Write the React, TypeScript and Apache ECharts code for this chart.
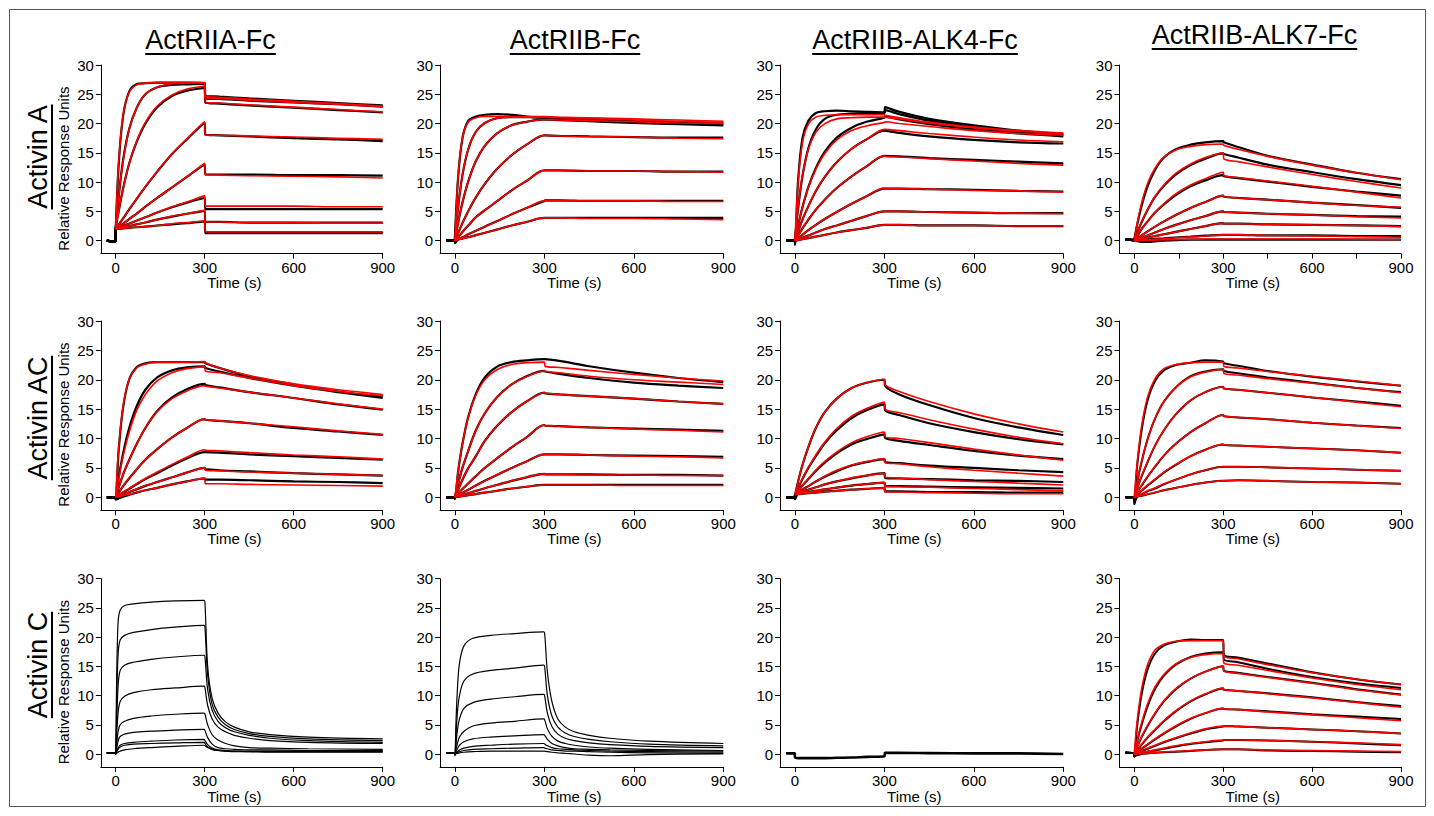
import React, { useEffect, useRef } from "react";
import * as echarts from "echarts";

const FONT = "'Liberation Sans', Arial, Helvetica, sans-serif";

const columnTitles = ["ActRIIA-Fc", "ActRIIB-Fc", "ActRIIB-ALK4-Fc", "ActRIIB-ALK7-Fc"];
const rowTitles = ["Activin A", "Activin AC", "Activin C"];
const yAxisTitle = "Relative Response Units";
const xAxisTitle = "Time (s)";
const yTickValues = [0, 5, 10, 15, 20, 25, 30];
const xLabelValues = [0, 300, 600, 900];
const xMinorTickValues = [150, 450, 750];

// time grids (s)
const tFit = [0, 10, 25, 45, 70, 100, 140, 190, 240, 300, 302, 350, 450, 600, 750, 900];
const tData = [-30, -1, 0, 10, 25, 45, 70, 100, 140, 190, 240, 300, 302, 350, 450, 600, 750, 900];
const tFast = [-30, -1, 0, 3, 8, 15, 30, 60, 120, 200, 298, 301, 310, 325, 345, 370, 400, 450, 520, 650, 900];

// ---- Activin A / ActRIIA-Fc ----
const fitA_IIA = [
  [2, 13.3, 21.4, 25.3, 26.6, 26.9, 27, 27, 27, 27.0, 24.7, 24.5, 24.2, 23.8, 23.4, 23.0],
  [2, 7.5, 13.6, 18.9, 22.6, 25.0, 26.2, 26.8, 26.9, 26.9, 24.4, 24.3, 24.0, 23.6, 23.3, 22.9],
  [2, 5.0, 8.9, 13.1, 16.9, 20.2, 23.0, 24.9, 25.9, 26.4, 23.6, 23.5, 23.2, 22.8, 22.4, 22.0],
  [2, 2.7, 3.8, 5.3, 7.1, 9.2, 11.8, 14.8, 17.4, 20.3, 18.1, 18.0, 17.9, 17.7, 17.5, 17.3],
  [2, 2.4, 2.9, 3.7, 4.6, 5.8, 7.3, 9.1, 10.9, 13.2, 11.3, 11.2, 11.1, 11.0, 10.9, 10.7],
  [2, 2.2, 2.5, 2.9, 3.4, 4.0, 4.8, 5.8, 6.6, 7.7, 5.9, 5.9, 5.9, 5.9, 5.8, 5.8],
  [2, 2.1, 2.3, 2.5, 2.8, 3.1, 3.6, 4.2, 4.6, 5.2, 3.2, 3.2, 3.1, 3.1, 3.0, 3.0],
  [2, 2.0, 2.1, 2.2, 2.3, 2.4, 2.6, 2.9, 3.1, 3.4, 1.5, 1.5, 1.5, 1.5, 1.5, 1.5],
];
const dataA_IIA = [
  [0, -0.2, 2, 13, 21.3, 25.4, 26.7, 26.9, 27, 27, 27, 26.9, 24.8, 24.6, 24.3, 23.9, 23.5, 23.1],
  [0, -0.2, 2, 7.5, 13.8, 19.0, 22.6, 25.0, 26.2, 26.6, 26.7, 26.8, 24.3, 24.2, 23.9, 23.6, 23.3, 22.9],
  [0, -0.2, 2, 5.0, 8.9, 13.1, 16.8, 20.0, 22.8, 24.7, 25.6, 26.1, 23.6, 23.4, 23.1, 22.7, 22.3, 21.9],
  [0, -0.2, 2, 2.7, 3.8, 5.3, 7.1, 9.2, 11.8, 14.8, 17.3, 20.1, 18.1, 18.0, 17.8, 17.5, 17.3, 17.0],
  [0, -0.2, 2, 2.4, 2.9, 3.7, 4.6, 5.8, 7.3, 9.1, 10.9, 13.0, 11.3, 11.3, 11.3, 11.2, 11.2, 11.1],
  [0, -0.2, 2, 2.2, 2.5, 2.9, 3.4, 4.0, 4.8, 5.7, 6.5, 7.3, 5.4, 5.4, 5.4, 5.4, 5.4, 5.4],
  [0, -0.2, 2, 2.1, 2.3, 2.5, 2.8, 3.1, 3.6, 4.1, 4.6, 5.1, 3.2, 3.2, 3.1, 3.1, 3.1, 3.1],
  [0, -0.2, 2, 2.0, 2.1, 2.2, 2.3, 2.4, 2.6, 2.8, 3.0, 3.3, 1.3, 1.3, 1.3, 1.3, 1.3, 1.3],
];

// ---- Activin A / ActRIIB-Fc ----
const fitA_IIB = [
  [0, 10.7, 17.5, 20.3, 21.0, 21.2, 21.2, 21.2, 21.2, 21.2, 21.2, 21.1, 21.0, 20.8, 20.6, 20.4],
  [0, 5.5, 11.2, 15.7, 18.6, 20.1, 20.9, 21.1, 21.1, 21.1, 21.1, 21.0, 20.9, 20.6, 20.4, 20.2],
  [0, 2.9, 6.5, 10.2, 13.6, 16.2, 18.3, 19.7, 20.3, 20.7, 20.7, 20.6, 20.5, 20.3, 20.1, 20.0],
  [0, 1.25, 3.0, 5.1, 7.4, 9.7, 12.2, 14.6, 16.4, 18.0, 18.0, 17.9, 17.8, 17.7, 17.5, 17.4],
  [0, 0.6, 1.5, 2.6, 4.0, 5.2, 6.7, 8.6, 10.2, 12.0, 12.0, 12.0, 11.9, 11.9, 11.8, 11.7],
  [0, 0.25, 0.6, 1.1, 1.7, 2.4, 3.3, 4.5, 5.6, 6.8, 6.8, 6.8, 6.8, 6.8, 6.7, 6.7],
  [0, 0.15, 0.35, 0.6, 0.95, 1.35, 1.9, 2.6, 3.2, 3.9, 3.9, 3.9, 3.8, 3.8, 3.7, 3.6],
];
const dataA_IIB = [
  [0, 0, 0, 10.5, 17.5, 20.5, 21.2, 21.5, 21.6, 21.5, 21.2, 21.0, 21.0, 20.8, 20.5, 20.2, 20.0, 19.8],
  [0, 0, 0, 5.5, 11.2, 15.7, 18.6, 20.1, 20.9, 21.1, 21.1, 21.1, 21.1, 20.9, 20.7, 20.4, 20.2, 20.0],
  [0, 0, 0, 2.9, 6.5, 10.2, 13.6, 16.2, 18.3, 19.7, 20.3, 20.7, 20.7, 20.6, 20.4, 20.1, 19.9, 19.7],
  [0, 0, 0, 1.25, 3.0, 5.1, 7.4, 9.7, 12.2, 14.6, 16.4, 18.0, 18.0, 17.9, 17.8, 17.7, 17.6, 17.6],
  [0, 0, 0, 0.6, 1.5, 2.6, 4.0, 5.2, 6.7, 8.6, 10.2, 12.0, 12.0, 12.0, 11.9, 11.9, 11.8, 11.8],
  [0, 0, 0, 0.25, 0.6, 1.1, 1.7, 2.4, 3.3, 4.5, 5.6, 6.8, 6.9, 6.9, 6.8, 6.8, 6.8, 6.8],
  [0, 0, -0.4, 0.15, 0.35, 0.6, 0.95, 1.35, 1.9, 2.6, 3.2, 3.9, 3.9, 3.9, 3.9, 3.9, 3.9, 3.9],
];

// ---- Activin A / ActRIIB-ALK4-Fc ----
const fitA_ALK4 = [
  [0, 9.6, 16.7, 19.9, 21.1, 21.4, 21.5, 21.5, 21.5, 21.5, 21.4, 21.0, 20.2, 19.4, 18.8, 18.4],
  [0, 5.5, 11.1, 15.6, 18.5, 20.0, 20.8, 21.0, 21.1, 21.1, 21.1, 20.8, 20.1, 19.3, 18.7, 18.3],
  [0, 2.5, 5.7, 9.1, 12.2, 14.9, 17.2, 18.8, 19.6, 20.2, 20.3, 20.0, 19.5, 18.8, 18.3, 18.0],
  [0, 1.5, 3.6, 5.9, 8.5, 10.9, 13.4, 15.7, 17.3, 19.0, 19.0, 18.8, 18.3, 17.7, 17.2, 16.9],
  [0, 0.85, 2.1, 3.6, 5.3, 7.0, 9.0, 11.0, 12.7, 14.5, 14.4, 14.3, 14.0, 13.6, 13.2, 12.9],
  [0, 0.4, 1.0, 1.8, 2.7, 3.7, 4.9, 6.3, 7.6, 9.0, 8.9, 8.9, 8.8, 8.6, 8.5, 8.3],
  [0, 0.2, 0.5, 0.9, 1.4, 2.0, 2.6, 3.4, 4.2, 5.0, 5.0, 5.0, 4.9, 4.8, 4.7, 4.6],
  [0, 0.1, 0.25, 0.45, 0.7, 1.0, 1.4, 1.8, 2.2, 2.7, 2.7, 2.7, 2.6, 2.6, 2.5, 2.5],
];
const dataA_ALK4 = [
  [0, 0, -0.7, 10, 17.5, 20.5, 21.8, 22.1, 22.2, 22.1, 22.0, 21.9, 22.8, 22.0, 20.8, 19.7, 18.8, 18.2],
  [0, 0, 0, 5.3, 11.0, 15.8, 19.0, 20.8, 21.5, 21.7, 21.8, 21.8, 22.3, 21.6, 20.5, 19.4, 18.6, 18.0],
  [0, 0, 0, 2.5, 5.7, 9.2, 12.4, 15.2, 17.6, 19.3, 20.3, 21.0, 21.2, 20.7, 19.9, 19.0, 18.3, 17.8],
  [0, 0, 0, 1.5, 3.6, 5.9, 8.5, 10.9, 13.4, 15.7, 17.3, 18.8, 18.8, 18.4, 17.8, 17.2, 16.8, 16.6],
  [0, 0, 0, 0.85, 2.1, 3.6, 5.3, 7.0, 9.0, 11.0, 12.7, 14.5, 14.5, 14.4, 14.1, 13.8, 13.5, 13.2],
  [0, 0, 0, 0.4, 1.0, 1.8, 2.7, 3.7, 4.9, 6.3, 7.6, 8.9, 8.9, 8.9, 8.8, 8.7, 8.5, 8.4],
  [0, 0, 0, 0.2, 0.5, 0.9, 1.4, 2.0, 2.6, 3.4, 4.2, 5.0, 5.0, 5.0, 4.9, 4.8, 4.7, 4.7],
  [0, 0, 0, 0.1, 0.25, 0.45, 0.7, 1.0, 1.4, 1.8, 2.2, 2.7, 2.7, 2.7, 2.6, 2.6, 2.5, 2.5],
];

// ---- Activin A / ActRIIB-ALK7-Fc ----
const fitA_ALK7 = [
  [0, 3.0, 6.5, 9.8, 12.4, 14.3, 15.5, 16.1, 16.4, 16.5, 16.3, 15.6, 14.4, 12.9, 11.6, 10.4],
  [0, 1.4, 3.2, 5.3, 7.5, 9.5, 11.5, 13.1, 14.2, 15.0, 14.0, 13.5, 12.6, 11.3, 10.1, 9.0],
  [0, 0.8, 2.0, 3.3, 4.8, 6.3, 8.0, 9.5, 10.6, 11.7, 11.1, 10.8, 10.2, 9.3, 8.3, 7.3],
  [0, 0.4, 0.9, 1.6, 2.4, 3.3, 4.4, 5.6, 6.6, 7.7, 7.5, 7.3, 7.0, 6.5, 6.0, 5.7],
  [0, 0.2, 0.5, 0.9, 1.4, 2.0, 2.7, 3.5, 4.2, 5.0, 4.9, 4.8, 4.6, 4.4, 4.1, 3.9],
  [0, 0.1, 0.3, 0.5, 0.8, 1.1, 1.5, 2.0, 2.5, 3.0, 2.9, 2.9, 2.8, 2.7, 2.6, 2.4],
  [0, 0.05, 0.1, 0.15, 0.25, 0.35, 0.5, 0.65, 0.8, 1.0, 1.0, 1.0, 0.9, 0.8, 0.7, 0.6],
  [0, 0.02, 0.05, 0.08, 0.1, 0.15, 0.2, 0.25, 0.28, 0.3, 0.3, 0.3, 0.3, 0.3, 0.25, 0.2],
];
const dataA_ALK7 = [
  [0.2, 0.1, 0, 2.8, 6.0, 9.3, 12.1, 14.2, 15.6, 16.4, 16.8, 17.0, 16.8, 16.0, 14.5, 13.0, 11.6, 10.5],
  [0.2, 0.1, 0, 1.4, 3.2, 5.3, 7.5, 9.4, 11.3, 12.9, 14.0, 14.9, 14.8, 14.2, 13.0, 11.7, 10.5, 9.5],
  [0.2, 0.1, 0, 0.8, 2.0, 3.3, 4.8, 6.2, 7.8, 9.3, 10.3, 11.2, 11.0, 10.7, 10.1, 9.2, 8.4, 7.7],
  [0.2, 0.1, 0, 0.4, 0.9, 1.6, 2.4, 3.3, 4.4, 5.6, 6.6, 7.7, 7.5, 7.3, 7.0, 6.5, 6.1, 5.6],
  [0.2, 0.1, 0, 0.2, 0.5, 0.9, 1.4, 2.0, 2.7, 3.5, 4.2, 5.0, 4.9, 4.8, 4.6, 4.4, 4.2, 4.1],
  [0.2, 0.1, 0, 0.1, 0.3, 0.5, 0.8, 1.1, 1.5, 2.0, 2.5, 3.0, 2.9, 2.9, 2.8, 2.7, 2.6, 2.5],
  [0.2, 0.1, 0, 0.05, 0.1, 0.2, 0.3, 0.4, 0.55, 0.7, 0.85, 1.0, 1.0, 1.0, 0.9, 0.9, 0.8, 0.8],
  [0.2, 0.1, 0, -0.1, -0.2, -0.2, -0.1, 0, 0.1, 0.2, 0.2, 0.2, 0.2, 0.2, 0.2, 0.2, 0.2, 0.2],
];

// ---- Activin AC / ActRIIA-Fc ----
const fitAC_IIA = [
  [0, 8.3, 15.5, 20.0, 22.0, 22.7, 23.0, 23.0, 23.0, 23.1, 22.9, 22.0, 20.7, 19.3, 18.3, 17.5],
  [0, 3.1, 7.0, 11.0, 14.7, 17.5, 19.8, 21.2, 21.9, 22.2, 21.5, 21.2, 20.3, 19.0, 18.0, 17.3],
  [0, 1.65, 3.9, 6.3, 9.0, 11.8, 14.6, 16.8, 18.1, 19.0, 18.9, 18.6, 17.9, 16.9, 15.9, 15.0],
  [0, 0.75, 1.9, 3.2, 4.7, 6.4, 8.2, 10.2, 11.8, 13.3, 13.2, 13.0, 12.6, 12.0, 11.3, 10.7],
  [0, 0.35, 0.9, 1.5, 2.3, 3.2, 4.3, 5.6, 6.8, 8.1, 8.0, 7.9, 7.6, 7.2, 6.9, 6.5],
  [0, 0.2, 0.5, 0.9, 1.4, 2.0, 2.6, 3.4, 4.2, 5.0, 4.6, 4.5, 4.3, 4.1, 3.9, 3.7],
  [0, 0.1, 0.3, 0.5, 0.8, 1.2, 1.6, 2.2, 2.7, 3.3, 2.3, 2.3, 2.2, 2.1, 2.0, 1.9],
];
const dataAC_IIA = [
  [0, 0, -0.2, 8.0, 15.3, 20.0, 22.1, 22.8, 23.0, 23.0, 23.0, 23.0, 22.8, 22.0, 20.6, 19.2, 18.0, 17.1],
  [0, 0, -0.2, 3.3, 7.5, 11.7, 15.4, 18.3, 20.4, 21.6, 22.1, 22.3, 22.0, 21.4, 20.3, 19.0, 17.9, 16.9],
  [0, 0, -0.2, 1.65, 3.9, 6.3, 9.0, 11.8, 14.7, 17.0, 18.4, 19.3, 19.1, 18.7, 17.9, 16.9, 15.8, 14.9],
  [0, 0, -0.2, 0.75, 1.9, 3.2, 4.7, 6.4, 8.2, 10.2, 11.8, 13.3, 13.2, 13.0, 12.6, 11.8, 11.2, 10.6],
  [0, 0, -0.2, 0.3, 0.8, 1.4, 2.2, 3.1, 4.1, 5.4, 6.6, 7.7, 7.7, 7.6, 7.3, 7.0, 6.7, 6.4],
  [0, 0, -0.2, 0.15, 0.45, 0.85, 1.35, 1.95, 2.6, 3.4, 4.2, 5.0, 4.8, 4.6, 4.4, 4.1, 3.9, 3.7],
  [0, 0, -0.4, -0.2, 0.1, 0.4, 0.8, 1.2, 1.6, 2.2, 2.7, 3.2, 3.0, 3.0, 2.9, 2.7, 2.6, 2.4],
];

// ---- Activin AC / ActRIIB-Fc ----
const fitAC_IIB = [
  [0, 4.2, 9.1, 13.7, 17.4, 20.0, 21.7, 22.6, 22.9, 23.0, 22.3, 22.1, 21.6, 20.9, 20.3, 19.8],
  [0, 2.2, 5.0, 8.0, 11.4, 14.3, 17.0, 19.2, 20.5, 21.5, 21.4, 21.2, 20.6, 20.0, 19.6, 19.2],
  [0, 1.2, 3.0, 5.0, 7.0, 9.6, 12.1, 14.5, 16.3, 17.8, 17.7, 17.5, 17.2, 16.8, 16.3, 15.9],
  [0, 0.6, 1.4, 2.4, 3.6, 5.0, 6.6, 8.5, 10.2, 12.3, 12.2, 12.1, 11.9, 11.6, 11.4, 11.1],
  [0, 0.3, 0.75, 1.3, 2.0, 2.8, 3.8, 5.0, 6.1, 7.3, 7.3, 7.3, 7.2, 7.0, 6.9, 6.7],
  [0, 0.15, 0.4, 0.7, 1.1, 1.55, 2.1, 2.8, 3.4, 4.0, 3.9, 3.9, 3.8, 3.8, 3.7, 3.7],
  [0, 0.08, 0.2, 0.35, 0.55, 0.8, 1.1, 1.5, 1.8, 2.1, 2.1, 2.1, 2.1, 2.0, 2.0, 2.0],
];
const dataAC_IIB = [
  [0, 0, -0.3, 4.2, 9.1, 13.8, 17.6, 20.4, 22.2, 23.0, 23.3, 23.5, 23.5, 23.2, 22.3, 21.2, 20.3, 19.6],
  [0, 0, 0, 2.2, 5.0, 8.0, 11.4, 14.3, 17.0, 19.2, 20.6, 21.5, 21.4, 21.0, 20.3, 19.5, 19.0, 18.6],
  [0, 0, 0, 1.2, 3.0, 5.0, 7.0, 9.6, 12.1, 14.5, 16.3, 17.8, 17.7, 17.5, 17.2, 16.8, 16.3, 15.9],
  [0, 0, 0, 0.6, 1.4, 2.4, 3.6, 5.0, 6.6, 8.5, 10.2, 12.3, 12.2, 12.1, 11.9, 11.7, 11.5, 11.3],
  [0, 0, 0, 0.3, 0.75, 1.3, 2.0, 2.8, 3.8, 5.0, 6.1, 7.3, 7.3, 7.3, 7.2, 7.1, 7.0, 6.9],
  [0, 0, 0, 0.15, 0.4, 0.7, 1.1, 1.55, 2.1, 2.8, 3.4, 4.0, 3.9, 3.9, 3.9, 3.8, 3.8, 3.7],
  [0, 0, 0, 0.08, 0.2, 0.35, 0.55, 0.8, 1.1, 1.5, 1.8, 2.1, 2.1, 2.1, 2.1, 2.1, 2.1, 2.1],
];

// ---- Activin AC / ActRIIB-ALK4-Fc ----
const fitAC_ALK4 = [
  [0.5, 2.6, 5.5, 8.6, 11.8, 14.5, 16.8, 18.6, 19.5, 20.1, 19.2, 18.0, 16.3, 14.2, 12.5, 11.1],
  [0.5, 1.5, 3.2, 5.1, 7.2, 9.4, 11.7, 13.8, 15.1, 16.2, 15.0, 14.4, 13.2, 11.6, 10.2, 9.1],
  [0.5, 1.0, 2.0, 3.2, 4.6, 6.1, 7.7, 9.3, 10.3, 11.1, 10.3, 10.0, 9.3, 8.2, 7.2, 6.3],
  [0.5, 0.8, 1.3, 1.9, 2.7, 3.6, 4.6, 5.5, 6.1, 6.6, 5.9, 5.7, 5.2, 4.6, 4.1, 3.6],
  [0.5, 0.7, 1.0, 1.3, 1.7, 2.2, 2.7, 3.3, 3.7, 4.1, 3.4, 3.3, 3.0, 2.7, 2.4, 2.1],
  [0.5, 0.6, 0.75, 0.9, 1.1, 1.35, 1.65, 2.0, 2.25, 2.5, 1.9, 1.8, 1.7, 1.5, 1.3, 1.1],
  [0.5, 0.55, 0.6, 0.7, 0.8, 0.95, 1.1, 1.3, 1.45, 1.6, 0.9, 0.9, 0.8, 0.7, 0.6, 0.6],
];
const dataAC_ALK4 = [
  [0, 0, 0.3, 2.6, 5.5, 8.6, 11.8, 14.5, 16.8, 18.6, 19.5, 20.0, 19.0, 17.5, 15.7, 13.5, 11.9, 10.6],
  [0, 0, 0.3, 1.5, 3.1, 5.0, 7.0, 9.2, 11.4, 13.5, 14.8, 15.8, 14.8, 14.0, 12.6, 11.1, 9.9, 9.0],
  [0, 0, 0.3, 1.0, 2.0, 3.1, 4.5, 5.9, 7.5, 9.0, 9.9, 10.7, 10.1, 9.6, 8.9, 7.9, 7.1, 6.5],
  [0, 0, 0.3, 0.8, 1.3, 1.9, 2.7, 3.5, 4.4, 5.4, 6.0, 6.5, 6.0, 5.8, 5.4, 5.0, 4.6, 4.3],
  [0, 0, 0.3, 0.7, 1.0, 1.3, 1.7, 2.2, 2.7, 3.2, 3.7, 4.1, 3.3, 3.2, 3.1, 2.9, 2.8, 2.6],
  [0, 0, 0.3, 0.6, 0.75, 0.9, 1.1, 1.35, 1.65, 2.0, 2.25, 2.5, 1.9, 1.9, 1.8, 1.7, 1.6, 1.5],
  [0, 0, -0.3, 0.55, 0.6, 0.7, 0.8, 0.95, 1.1, 1.3, 1.45, 1.6, 1.0, 1.0, 0.9, 0.9, 0.8, 0.8],
];

// ---- Activin AC / ActRIIB-ALK7-Fc ----
const fitAC_ALK7 = [
  [0, 6.0, 12.2, 17.1, 20.2, 21.9, 22.6, 22.9, 23.0, 23.0, 22.3, 22.0, 21.4, 20.6, 19.8, 19.0],
  [0, 2.7, 6.2, 9.9, 13.4, 16.3, 18.7, 20.5, 21.3, 21.8, 21.1, 20.8, 20.2, 19.4, 18.6, 17.8],
  [0, 1.6, 3.7, 6.1, 8.8, 11.4, 14.1, 16.5, 17.9, 18.8, 18.5, 18.3, 17.8, 17.0, 16.2, 15.4],
  [0, 0.9, 2.1, 3.6, 5.3, 7.1, 9.1, 11.1, 12.6, 14.0, 13.8, 13.6, 13.3, 12.7, 12.2, 11.7],
  [0, 0.5, 1.2, 2.1, 3.1, 4.3, 5.6, 7.0, 8.1, 9.0, 8.9, 8.8, 8.6, 8.3, 8.0, 7.6],
  [0, 0.25, 0.6, 1.1, 1.6, 2.3, 3.0, 3.9, 4.6, 5.2, 5.2, 5.2, 5.1, 4.9, 4.7, 4.5],
  [0, 0.12, 0.3, 0.55, 0.85, 1.2, 1.6, 2.1, 2.5, 2.8, 2.8, 2.9, 2.8, 2.6, 2.5, 2.3],
];
const dataAC_ALK7 = [
  [0, 0, -0.6, 5.5, 11.5, 16.5, 19.8, 21.6, 22.5, 22.9, 23.3, 23.1, 22.8, 22.4, 21.5, 20.5, 19.7, 19.0],
  [0, 0, -0.6, 2.6, 6.1, 9.9, 13.4, 16.3, 18.7, 20.6, 21.4, 21.8, 21.5, 21.1, 20.4, 19.5, 18.6, 17.9],
  [0, 0, -0.6, 1.5, 3.6, 6.0, 8.8, 11.4, 14.1, 16.5, 17.9, 18.8, 18.5, 18.3, 17.8, 17.0, 16.3, 15.6],
  [0, 0, -0.6, 0.8, 2.0, 3.5, 5.2, 7.1, 9.1, 11.1, 12.6, 14.0, 13.8, 13.6, 13.3, 12.7, 12.2, 11.8],
  [0, 0, -0.6, 0.4, 1.1, 2.0, 3.0, 4.2, 5.5, 7.0, 8.1, 9.0, 8.9, 8.8, 8.6, 8.3, 8.0, 7.6],
  [0, 0, -0.6, 0.2, 0.5, 1.0, 1.5, 2.2, 3.0, 3.9, 4.6, 5.2, 5.2, 5.2, 5.1, 4.9, 4.7, 4.5],
  [0, 0, -1.2, 0.1, 0.25, 0.5, 0.8, 1.2, 1.6, 2.1, 2.5, 2.8, 2.8, 2.9, 2.8, 2.6, 2.5, 2.3],
];

// ---- Activin C / ActRIIA-Fc (data only) ----
const dataC_IIA = [
  [0.2, 0.2, 0, 12, 22.5, 24.6, 25.4, 25.7, 26.0, 26.2, 26.3, 25.8, 15.0, 9.5, 7.0, 5.5, 4.6, 3.8, 3.3, 2.9, 2.6],
  [0.2, 0.2, 0, 8, 17, 19.5, 20.3, 20.8, 21.3, 21.7, 22.0, 21.6, 13.5, 8.5, 6.3, 5.0, 4.2, 3.5, 3.0, 2.6, 2.3],
  [0.2, 0.2, 0, 5, 11.5, 14.3, 15.2, 15.7, 16.2, 16.6, 16.9, 16.5, 11.0, 7.5, 5.6, 4.5, 3.8, 3.2, 2.7, 2.3, 2.0],
  [0.2, 0.2, 0, 3, 7, 9.0, 9.9, 10.5, 11.0, 11.3, 11.6, 11.3, 8.3, 6.0, 4.6, 3.8, 3.2, 2.7, 2.3, 2.0, 1.8],
  [0.2, 0.2, 0, 1.5, 3.8, 5.0, 5.6, 6.1, 6.5, 6.8, 7.0, 6.8, 5.0, 3.3, 2.4, 1.8, 1.4, 1.1, 1.0, 0.9, 0.8],
  [0.2, 0.2, 0, 0.8, 2.2, 3.0, 3.4, 3.7, 3.9, 4.1, 4.2, 4.0, 2.8, 1.7, 1.1, 0.9, 0.8, 0.7, 0.7, 0.6, 0.6],
  [0.2, 0.2, 0, 0.4, 1.0, 1.5, 1.8, 2.0, 2.2, 2.4, 2.5, 2.3, 1.6, 1.0, 0.7, 0.6, 0.5, 0.5, 0.5, 0.5, 0.5],
  [0.2, 0.2, 0, 0.3, 0.8, 1.2, 1.5, 1.7, 1.8, 1.9, 2.0, 1.8, 1.2, 0.8, 0.6, 0.5, 0.5, 0.4, 0.4, 0.4, 0.4],
  [0.2, 0.2, 0, 0.1, 0.3, 0.5, 0.7, 0.9, 1.1, 1.3, 1.5, 1.4, 1.1, 0.8, 0.6, 0.5, 0.4, 0.4, 0.3, 0.3, 0.3],
];

// ---- Activin C / ActRIIB-Fc (data only) ----
const dataC_IIB = [
  [0.2, 0.2, 0, 5, 11, 15.5, 18.5, 19.8, 20.3, 20.6, 20.9, 20.5, 14, 9, 6, 4.6, 3.8, 3.2, 2.7, 2.2, 1.8],
  [0.2, 0.2, 0, 3, 7, 10, 12.5, 13.7, 14.3, 14.7, 15.2, 14.8, 10, 6.5, 4.6, 3.6, 3.0, 2.5, 2.1, 1.7, 1.4],
  [0.2, 0.2, 0, 1.5, 4, 6, 7.8, 8.8, 9.4, 9.8, 10.2, 9.9, 7.0, 4.7, 3.4, 2.7, 2.3, 1.9, 1.6, 1.3, 1.1],
  [0.2, 0.2, 0, 0.7, 1.8, 2.9, 3.9, 4.8, 5.3, 5.6, 6.0, 5.8, 4.3, 3.0, 2.2, 1.8, 1.5, 1.2, 1.0, 0.8, 0.6],
  [0.2, 0.2, 0, 0.3, 0.9, 1.5, 2.1, 2.6, 2.9, 3.1, 3.3, 3.2, 2.5, 1.8, 1.4, 1.1, 0.9, 0.8, 0.7, 0.6, 0.5],
  [0.2, 0.2, 0, 0.15, 0.4, 0.7, 1.0, 1.3, 1.5, 1.7, 1.8, 1.7, 1.4, 1.1, 0.9, 0.8, 0.7, 0.6, 0.5, 0.4, 0.3],
  [0.2, 0.2, 0, 0.1, 0.25, 0.4, 0.6, 0.8, 0.9, 1.0, 1.1, 1.0, 0.9, 0.7, 0.6, 0.5, 0.5, 0.4, 0.3, 0.2, 0.1],
  [0.2, 0.2, -0.3, 0.05, 0.1, 0.2, 0.3, 0.4, 0.5, 0.5, 0.5, 0.5, 0.4, 0.3, 0.2, 0.1, 0, -0.2, -0.3, -0.1, 0.0],
];

// ---- Activin C / ActRIIB-ALK4-Fc (data only) ----
const dataC_ALK4 = [
  [0.1, 0.1, -0.6, -0.7, -0.7, -0.7, -0.7, -0.7, -0.65, -0.6, -0.5, -0.4, 0.2, 0.2, 0.15, 0.1, 0.1, 0.0],
];

// ---- Activin C / ActRIIB-ALK7-Fc ----
const fitC_ALK7 = [
  [0, 5.8, 11.2, 15.3, 17.8, 18.8, 19.3, 19.4, 19.4, 19.4, 16.8, 16.3, 15.3, 13.9, 12.8, 11.9],
  [0, 2.4, 5.4, 8.6, 11.5, 13.6, 15.4, 16.5, 17.0, 17.2, 15.6, 15.2, 14.3, 13.0, 11.9, 11.0],
  [0, 1.3, 3.0, 4.9, 7.0, 9.1, 11.2, 12.9, 14.1, 15.0, 14.2, 13.8, 13.1, 12.1, 11.0, 10.1],
  [0, 0.7, 1.7, 2.9, 4.2, 5.7, 7.4, 9.1, 10.3, 11.3, 11.0, 10.8, 10.3, 9.6, 8.8, 8.0],
  [0, 0.4, 1.0, 1.7, 2.6, 3.6, 4.8, 6.1, 7.0, 7.8, 7.7, 7.6, 7.2, 6.7, 6.2, 5.7],
  [0, 0.2, 0.55, 1.0, 1.5, 2.1, 2.8, 3.6, 4.3, 4.8, 4.8, 4.7, 4.5, 4.2, 3.9, 3.5],
  [0, 0.1, 0.25, 0.45, 0.7, 1.0, 1.4, 1.8, 2.1, 2.4, 2.4, 2.4, 2.3, 2.1, 1.9, 1.6],
  [0, 0.03, 0.08, 0.15, 0.25, 0.35, 0.45, 0.6, 0.7, 0.8, 0.8, 0.8, 0.7, 0.6, 0.5, 0.4],
];
const dataC_ALK7 = [
  [0.2, 0.1, -0.4, 5.0, 10.3, 14.5, 17.2, 18.6, 19.2, 19.6, 19.5, 19.5, 17.0, 16.5, 15.5, 14.0, 12.8, 11.9],
  [0.2, 0.1, -0.4, 2.2, 5.0, 8.2, 11.1, 13.4, 15.3, 16.6, 17.2, 17.4, 16.2, 15.7, 14.6, 13.2, 12.1, 11.3],
  [0.2, 0.1, -0.4, 1.2, 2.9, 4.8, 6.9, 9.0, 11.1, 12.9, 14.1, 15.0, 14.3, 13.9, 13.2, 12.2, 11.1, 10.2],
  [0.2, 0.1, -0.4, 0.6, 1.6, 2.8, 4.1, 5.6, 7.3, 9.0, 10.2, 11.2, 11.0, 10.8, 10.4, 9.7, 8.9, 8.2],
  [0.2, 0.1, -0.4, 0.3, 0.9, 1.6, 2.5, 3.5, 4.7, 6.0, 7.0, 7.8, 7.7, 7.6, 7.3, 6.8, 6.4, 6.0],
  [0.2, 0.1, -0.4, 0.1, 0.5, 0.9, 1.4, 2.0, 2.7, 3.5, 4.2, 4.7, 4.8, 4.7, 4.5, 4.2, 3.9, 3.5],
  [0.2, 0.1, -0.4, 0.0, 0.2, 0.4, 0.6, 0.9, 1.3, 1.7, 2.0, 2.3, 2.4, 2.4, 2.3, 2.1, 1.8, 1.5],
  [0.2, 0.1, -0.4, -0.2, 0, 0.1, 0.2, 0.3, 0.4, 0.5, 0.7, 0.8, 0.8, 0.8, 0.6, 0.5, 0.4, 0.3],
];

type Panel = { fit: number[][]; data: number[][]; tD: number[]; dataWidth: number; minor?: boolean };

const panels: Panel[] = [
  { fit: fitA_IIA, data: dataA_IIA, tD: tData, dataWidth: 2.2 },
  { fit: fitA_IIB, data: dataA_IIB, tD: tData, dataWidth: 2.2 },
  { fit: fitA_ALK4, data: dataA_ALK4, tD: tData, dataWidth: 2.2 },
  { fit: fitA_ALK7, data: dataA_ALK7, tD: tData, dataWidth: 2.2, minor: true },
  { fit: fitAC_IIA, data: dataAC_IIA, tD: tData, dataWidth: 2.2 },
  { fit: fitAC_IIB, data: dataAC_IIB, tD: tData, dataWidth: 2.2 },
  { fit: fitAC_ALK4, data: dataAC_ALK4, tD: tData, dataWidth: 2.2 },
  { fit: fitAC_ALK7, data: dataAC_ALK7, tD: tData, dataWidth: 2.0 },
  { fit: [], data: dataC_IIA, tD: tFast, dataWidth: 1.2 },
  { fit: [], data: dataC_IIB, tD: tFast, dataWidth: 1.2 },
  { fit: [], data: dataC_ALK4, tD: tData, dataWidth: 2.6 },
  { fit: fitC_ALK7, data: dataC_ALK7, tD: tData, dataWidth: 2.0 },
];

// layout (pixels)
const colX0 = [115.7, 455, 795, 1134.3];
const colX900 = [382.7, 723.3, 1063.3, 1401];
const rowY30 = [65, 321, 578.7];
const rowY0 = [240.7, 497.3, 754];
const X_MIN = -50, X_MAX = 900, Y_MIN = -2.2, Y_MAX = 30;
const titleX = [210.5, 575, 915, 1254.5];
const titleY = [40, 40, 40, 35];
const rowLabelY = [157, 418, 665];

function measure(text: string, size: number): number {
  const ctx = document.createElement("canvas").getContext("2d");
  if (!ctx) return text.length * size * 0.55;
  ctx.font = `${size}px ${FONT}`;
  return ctx.measureText(text).width;
}

export default function App() {
  const ref = useRef<HTMLDivElement>(null);
  useEffect(() => {
    if (!ref.current) return;
    const chart = echarts.init(ref.current, null, { renderer: "svg" });
    const grids: any[] = [];
    const xAxes: any[] = [];
    const yAxes: any[] = [];
    const series: any[] = [];
    const graphics: any[] = [];

    panels.forEach((p, i) => {
      const r = Math.floor(i / 4);
      const c = i % 4;
      const s = (colX900[c] - colX0[c]) / 900;
      const k = (rowY0[r] - rowY30[r]) / 30;
      grids.push({
        left: colX0[c] + X_MIN * s,
        top: rowY30[r],
        width: (X_MAX - X_MIN) * s,
        height: (Y_MAX - Y_MIN) * k,
      });
      xAxes.push({
        type: "value",
        gridIndex: i,
        min: X_MIN,
        max: X_MAX,
        position: "bottom",
        axisLine: { show: true, onZero: false, lineStyle: { color: "#000", width: 1 } },
        axisTick: {
          show: true,
          length: 5,
          lineStyle: { color: "#000", width: 1 },
          customValues: p.minor ? [...xLabelValues, ...xMinorTickValues] : xLabelValues,
        },
        axisLabel: { customValues: xLabelValues, color: "#000", fontSize: 15, fontFamily: FONT, margin: 6 },
        splitLine: { show: false },
      });
      yAxes.push({
        type: "value",
        gridIndex: i,
        min: Y_MIN,
        max: Y_MAX,
        position: "left",
        axisLine: { show: true, onZero: false, lineStyle: { color: "#000", width: 1 } },
        axisTick: { show: true, length: 5, lineStyle: { color: "#000", width: 1 }, customValues: yTickValues },
        axisLabel: { customValues: yTickValues, color: "#000", fontSize: 15, fontFamily: FONT, margin: 7 },
        splitLine: { show: false },
      });
      p.data.forEach((arr) => {
        series.push({
          type: "line",
          xAxisIndex: i,
          yAxisIndex: i,
          data: p.tD.map((t, j) => [t, arr[j]]),
          showSymbol: false,
          symbol: "none",
          smooth: 0.35,
          silent: true,
          z: 2,
          lineStyle: { color: "#000", width: p.dataWidth },
        });
      });
      p.fit.forEach((arr) => {
        series.push({
          type: "line",
          xAxisIndex: i,
          yAxisIndex: i,
          data: tFit.map((t, j) => [t, arr[j]]),
          showSymbol: false,
          symbol: "none",
          smooth: 0.35,
          silent: true,
          z: 3,
          lineStyle: { color: "#ff0000", width: 1.6 },
        });
      });
      graphics.push({
        type: "text",
        x: colX0[c] + 400 * s,
        y: rowY30[r] + 217.5,
        style: {
          text: xAxisTitle, fontSize: 15, fontFamily: FONT, fill: "#000",
          textAlign: "center", textVerticalAlign: "middle", align: "center", verticalAlign: "middle",
        },
      });
    });

    columnTitles.forEach((t, c) => {
      const w = measure(t, 27);
      graphics.push({
        type: "text",
        x: titleX[c],
        y: titleY[c],
        style: {
          text: t, fontSize: 27, fontFamily: FONT, fill: "#000",
          textAlign: "center", textVerticalAlign: "middle", align: "center", verticalAlign: "middle",
        },
      });
      graphics.push({
        type: "line",
        shape: { x1: titleX[c] - w / 2, y1: titleY[c] + 14, x2: titleX[c] + w / 2, y2: titleY[c] + 14 },
        style: { stroke: "#000", lineWidth: 2 },
      });
    });

    rowTitles.forEach((t, r) => {
      const w = measure(t, 27);
      graphics.push({
        type: "text",
        x: 38,
        y: rowLabelY[r],
        rotation: Math.PI / 2,
        style: {
          text: t, fontSize: 27, fontFamily: FONT, fill: "#000",
          textAlign: "center", textVerticalAlign: "middle", align: "center", verticalAlign: "middle",
        },
      });
      graphics.push({
        type: "line",
        shape: { x1: 52, y1: rowLabelY[r] - w / 2, x2: 52, y2: rowLabelY[r] + w / 2 },
        style: { stroke: "#000", lineWidth: 2 },
      });
      graphics.push({
        type: "text",
        x: 63,
        y: rowY30[r] + 103.5,
        rotation: Math.PI / 2,
        style: {
          text: yAxisTitle, fontSize: 15, fontFamily: FONT, fill: "#000",
          textAlign: "center", textVerticalAlign: "middle", align: "center", verticalAlign: "middle",
        },
      });
    });

    graphics.push({
      type: "rect",
      shape: { x: 9.5, y: 9.5, width: 1416, height: 797 },
      style: { fill: "none", stroke: "#555", lineWidth: 1 },
      z: -1,
    });

    chart.setOption({
      animation: false,
      backgroundColor: "#fff",
      textStyle: { fontFamily: FONT },
      grid: grids,
      xAxis: xAxes,
      yAxis: yAxes,
      series,
      graphic: graphics,
    });
    return () => chart.dispose();
  }, []);
  return (
    <div
      ref={ref}
      style={{ position: "absolute", left: 0, top: 0, width: 1434, height: 816, background: "#fff" }}
    />
  );
}
